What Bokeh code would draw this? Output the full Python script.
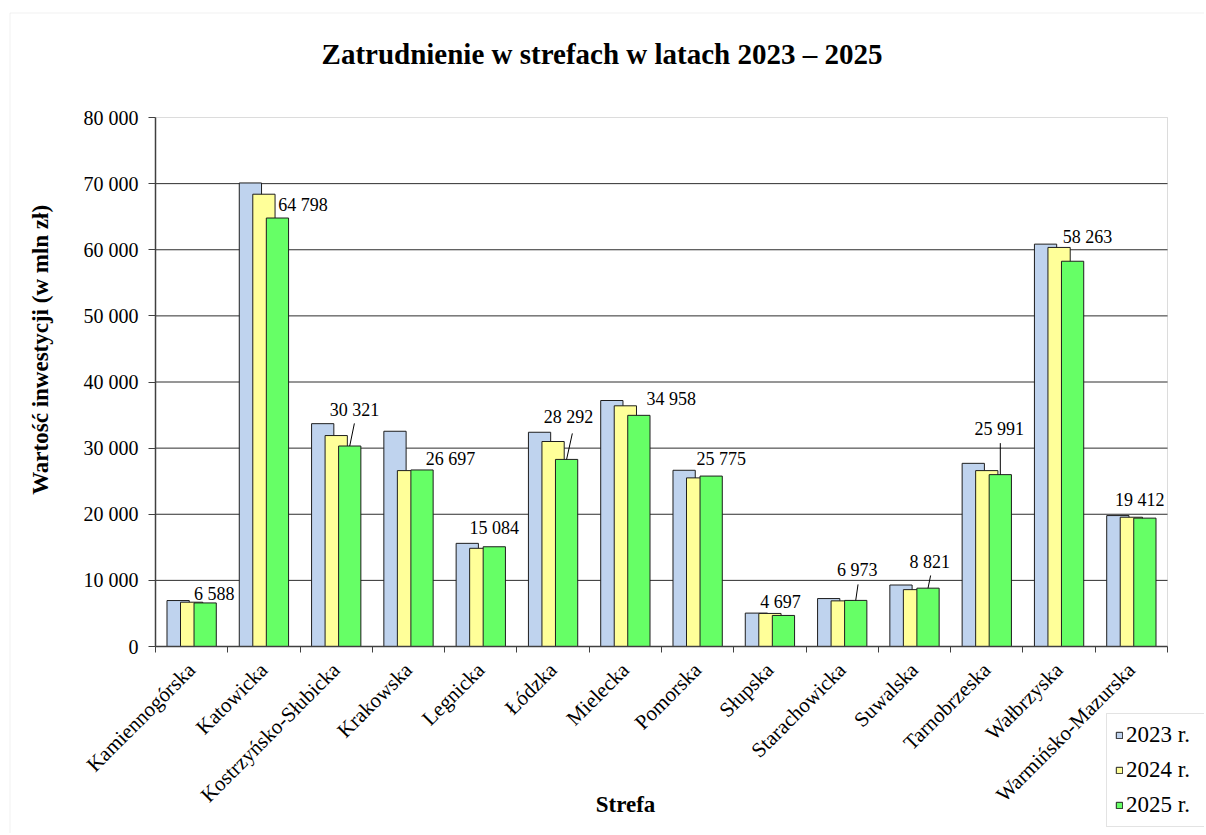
import math
from bokeh.plotting import figure
from bokeh.models import (Range1d, FixedTicker, CustomJSTickFormatter, ColumnDataSource,
                          Legend, LegendItem, Label, BoxAnnotation)
from bokeh.core.properties import value
from bokeh.embed import file_html
from bokeh.resources import INLINE

# ---------------- data ----------------
zones = ["Kamiennogórska", "Katowicka", "Kostrzyńsko-Słubicka", "Krakowska", "Legnicka",
         "Łódzka", "Mielecka", "Pomorska", "Słupska", "Starachowicka", "Suwalska",
         "Tarnobrzeska", "Wałbrzyska", "Warmińsko-Mazurska"]
series = ["2023 r.", "2024 r.", "2025 r."]
v2023 = [6950, 70100, 33700, 32550, 15600, 32400, 37200, 26650, 5050, 7250, 9300, 27700, 60850, 19800]
v2024 = [6700, 68400, 31900, 26600, 14850, 31000, 36400, 25500, 5000, 6900, 8600, 26600, 60350, 19550]
v2025 = [6588, 64798, 30321, 26697, 15084, 28292, 34958, 25775, 4697, 6973, 8821, 25991, 58263, 19412]
label_texts = ["6 588", "64 798", "30 321", "26 697", "15 084", "28 292", "34 958", "25 775",
               "4 697", "6 973", "8 821", "25 991", "58 263", "19 412"]
y_ticks = [0, 10000, 20000, 30000, 40000, 50000, 60000, 70000, 80000]

title_text = "Zatrudnienie w strefach w latach 2023 – 2025"
y_title = "Wartość inwestycji (w mln  zł)"
x_title = "Strefa"

# ---------------- layout / style ----------------
FONT = "Liberation Serif"
W, H = 1204, 833
N = len(zones)
YMAX = 80000
# plot area in canvas pixels
PL, PR, PT, PB = 155, 1167, 117, 646
XU = (PR - PL) / N                 # px per category unit
YU = (PB - PT) / YMAX              # px per value unit


def xd(px):
    return (px - PL) / XU


def yd(py):
    return (PB - py) / YU


colors = ["#BFD3EE", "#FFFF99", "#66FF66"]
bar_w = 0.308
stride = 0.187

# label offsets (screen px, relative to top-centre of the 2025 bar)
lab_dx = [9, 25.5, 4.7, 28.4, 0, 1.8, 32.5, 10, -3, 1.5, 1.8, -1, 15, -5]
lab_dy = [-9, -13.2, -35.6, -11, -19, -42, -16, -16.6, -13.5, -30, -26, -46, -24.4, -18]
# leader lines: (index, dx px, dy px upward)
leaders = [(2, 4.65, 22.6), (5, 5.75, 26), (9, 2.3, 16), (10, 2.6, 12.7), (11, 0.0, 31.5)]

p = figure(width=W, height=H, output_backend="svg", toolbar_location=None,
           title_location=None,
           x_range=Range1d(xd(0), xd(W)), y_range=Range1d(yd(H), yd(0)),
           min_border=0, background_fill_color="white", border_fill_color="white",
           outline_line_color=None)

# outer chart border (extends past the window on the right and bottom)
p.add_layout(BoxAnnotation(left=xd(9.5), top=yd(12.5), fill_alpha=0,
                           line_color="#d2d2d2", line_width=1, level="underlay"))
# plot-area border
p.add_layout(BoxAnnotation(left=0, right=N, bottom=0, top=YMAX, fill_alpha=0,
                           line_color="#8c8c8c", line_width=1, level="underlay"))

# horizontal grid lines inside the plot area
grid_vals = y_ticks[1:-1]
p.segment(x0=[0] * len(grid_vals), x1=[N] * len(grid_vals), y0=grid_vals, y1=grid_vals,
          line_color="#2e2e2e", line_width=1)
p.xgrid.visible = False
p.ygrid.visible = False

# bars
renderers = []
for k, vals in enumerate([v2023, v2024, v2025]):
    src = ColumnDataSource(dict(x=[i + 0.5 + (k - 1) * stride for i in range(N)], top=vals))
    r = p.vbar(x="x", top="top", bottom=0, width=bar_w, source=src,
               fill_color=colors[k], line_color="#1e1e1e", line_width=1)
    renderers.append(r)

# leader lines
xb = [i + 0.5 + stride for i in range(N)]
seg = ColumnDataSource(dict(
    x0=[xb[i] for i, _, _ in leaders],
    y0=[v2025[i] for i, _, _ in leaders],
    x1=[xb[i] + dx / XU for i, dx, _ in leaders],
    y1=[v2025[i] + dy / YU for i, _, dy in leaders],
))
p.segment(x0="x0", y0="y0", x1="x1", y1="y1", source=seg, line_color="black", line_width=1)

# data labels
lab = ColumnDataSource(dict(x=xb, y=v2025, t=label_texts, dx=lab_dx, dy=lab_dy))
p.text(x="x", y="y", text="t", x_offset="dx", y_offset="dy", source=lab,
       text_font=value(FONT), text_font_size="18px", text_color="black",
       text_align="center", text_baseline="middle")

# y axis at x = 0
yax = p.yaxis[0]
yax.fixed_location = 0
yax.bounds = (0, YMAX)
yax.ticker = FixedTicker(ticks=y_ticks)
yax.formatter = CustomJSTickFormatter(
    code="return tick.toFixed(0).replace(/\\B(?=(\\d{3})+(?!\\d))/g, ' ');")
yax.major_label_text_font = FONT
yax.major_label_text_font_size = "20px"
yax.major_label_text_color = "black"
yax.major_label_standoff = 10
yax.major_tick_out = 7
yax.major_tick_in = 0
yax.minor_tick_line_color = None
yax.axis_line_color = "#404040"
yax.axis_line_width = 1.5
yax.major_tick_line_color = "#404040"

# x axis at value 0
xax = p.xaxis[0]
xax.fixed_location = 0
xax.bounds = (0, N)
xax.ticker = FixedTicker(ticks=[i + 0.5 for i in range(N)], minor_ticks=list(range(N + 1)))
xax.formatter = CustomJSTickFormatter(args=dict(names=zones),
                                      code="return names[Math.round(tick - 0.5)];")
xax.major_label_orientation = math.pi / 4
xax.major_label_text_font = FONT
xax.major_label_text_font_size = "21px"
xax.major_label_text_color = "black"
xax.major_label_standoff = 14
xax.major_tick_line_color = None
xax.major_tick_out = 0
xax.major_tick_in = 0
xax.minor_tick_out = 6
xax.minor_tick_in = 0
xax.minor_tick_line_color = "#404040"
xax.axis_line_color = "#404040"
xax.axis_line_width = 1.5

# titles
p.add_layout(Label(x=xd(601.5), y=yd(53), text=title_text,
                   text_align="center", text_baseline="middle", text_font=FONT,
                   text_font_size="29px", text_font_style="bold", text_color="black"))
p.add_layout(Label(x=xd(40), y=yd(346.5), text=y_title, angle=math.pi / 2,
                   text_align="center", text_baseline="middle", text_font=FONT,
                   text_font_size="23px", text_font_style="bold", text_color="black"))
p.add_layout(Label(x=xd(625), y=yd(804), text=x_title,
                   text_align="center", text_baseline="middle", text_font=FONT,
                   text_font_size="23px", text_font_style="bold", text_color="black"))

# legend
legend = Legend(items=[LegendItem(label=s, renderers=[r]) for s, r in zip(series, renderers)],
                location=(1106, H - 827), orientation="vertical",
                label_text_font=FONT, label_text_font_size="23px", label_text_color="black",
                glyph_width=8, glyph_height=8, label_height=24, label_width=71,
                label_standoff=3, spacing=9, padding=8, margin=0,
                border_line_color="#c8c8c8", border_line_width=1,
                background_fill_color="white", background_fill_alpha=1)
p.add_layout(legend)

open("out.html", "w").write(file_html(p, INLINE))
